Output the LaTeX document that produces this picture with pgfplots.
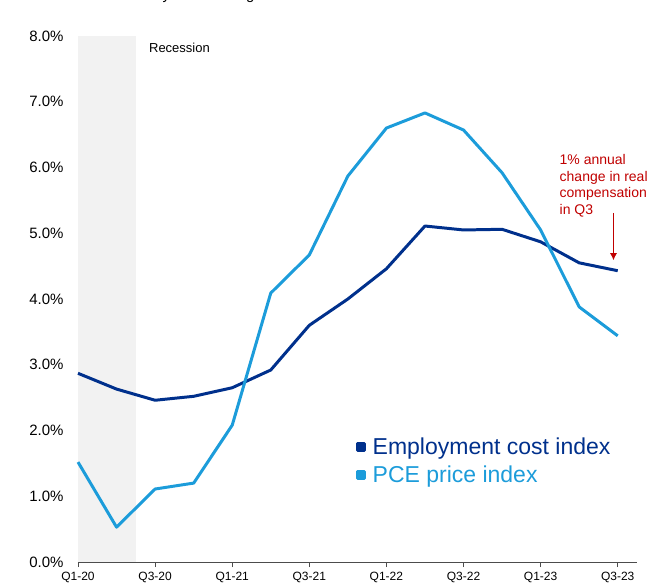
\documentclass[border=0pt]{standalone}
\usepackage{pgfplots}
\pgfplotsset{compat=1.18}
\usetikzlibrary{arrows.meta}
\usepackage{fontspec}
\setmainfont{Liberation Sans}
\definecolor{eci}{RGB}{0,48,140}
\definecolor{pce}{RGB}{28,156,218}
\definecolor{ann}{RGB}{192,0,0}
\definecolor{rec}{RGB}{242,242,242}
\begin{document}
\begin{tikzpicture}
\begin{axis}[
  scale only axis,
  width=559bp, height=526bp,
  xmin=0, xmax=14.5, ymin=0, ymax=8,
  axis x line*=bottom, axis y line*=left,
  axis line style={draw=black!70, line width=1pt, -},
  xtick={0,2,4,6,8,10,12,14},
  xticklabels={Q1-20,Q3-20,Q1-21,Q3-21,Q1-22,Q3-22,Q1-23,Q3-23},
  ytick={0,1,2,3,4,5,6,7,8},
  yticklabel={\pgfmathprintnumber[fixed,fixed zerofill,precision=1]{\tick}\%},
  /pgf/number format/assume math mode=true,
  tick align=outside,
  major tick length=5bp,
  xtick style={draw=black!70, line width=0.8pt},
  ytick style={draw=none},
  xticklabel style={font=\fontsize{12bp}{14bp}\selectfont, yshift=-2bp},
  yticklabel style={font=\fontsize{15bp}{18bp}\selectfont, xshift=-6bp},
  clip=false,
  legend style={at={(axis cs:7.12,1.95)}, anchor=north west, draw=none, fill=none,
    font=\fontsize{23bp}{27bp}\selectfont, row sep=6bp, column sep=5bp,
    cells={anchor=west}},
  legend image code/.code={\fill[#1] (0bp,-3.5bp) rectangle (7bp,3.5bp);},
]
\fill[rec] (axis cs:0,0) rectangle (axis cs:1.5,8);
\addplot[eci, line width=3pt, line join=round] coordinates {
 (0,2.87) (1,2.63) (2,2.46) (3,2.52) (4,2.65) (5,2.92) (6,3.60) (7,4.00)
 (8,4.46) (9,5.11) (10,5.05) (11,5.06) (12,4.87) (13,4.55) (14,4.43)};
\addlegendentry{\textcolor{eci}{Employment cost index}}
\addplot[pce, line width=3pt, line join=round] coordinates {
 (0,1.52) (1,0.53) (2,1.11) (3,1.20) (4,2.08) (5,4.09) (6,4.67) (7,5.87)
 (8,6.60) (9,6.83) (10,6.57) (11,5.92) (12,5.05) (13,3.88) (14,3.44)};
\addlegendentry{\textcolor{pce}{PCE price index}}
\node[anchor=west, font=\fontsize{13bp}{15bp}\selectfont, inner sep=0pt] at (axis cs:1.84,7.82) {Recession};
\node[anchor=north west, align=left, text=ann, inner sep=0pt,
  font=\fontsize{14bp}{16.5bp}\selectfont] at (axis cs:12.49,6.20)
  {1\% annual\\change in real\\compensation\\in Q3};
\draw[ann, line width=1pt, -{Latex[length=7bp,width=7bp]}] (axis cs:13.89,5.31) -- (axis cs:13.89,4.59);
\coordinate (O) at (axis cs:0,0);
\end{axis}
\node[overlay, anchor=base west, font=\fontsize{15bp}{18bp}\selectfont, inner sep=0pt]
  at ([shift={(15bp,562bp)}]O) {Year-over-year \% change};
\pgfresetboundingbox
\useasboundingbox ([shift={(-78bp,-24bp)}]O) rectangle ([shift={(582bp,562bp)}]O);
\end{tikzpicture}
\end{document}
